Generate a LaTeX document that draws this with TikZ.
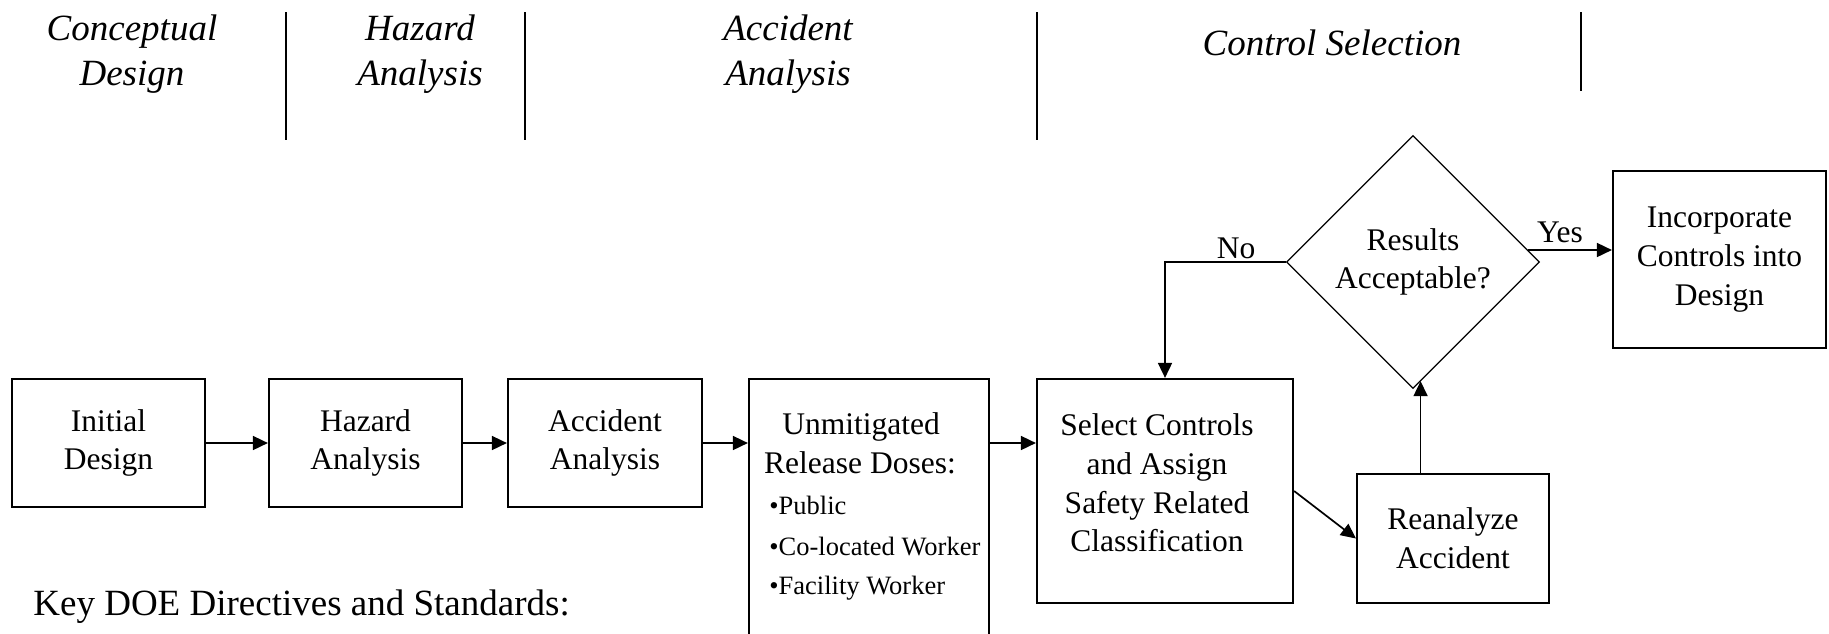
\documentclass[tikz,border=0pt]{standalone}
\usepackage{fontspec}
\setmainfont{Liberation Serif}
\usetikzlibrary{arrows.meta,shapes.geometric,calc}
\newcommand{\dboxfont}{\fontsize{15.75pt}{19.3pt}\selectfont}
\newcommand{\dheadfont}{\fontsize{18.5pt}{22.5pt}\selectfont\itshape}
\newcommand{\dbulfont}{\fontsize{13.25pt}{16pt}\selectfont}
\newcommand{\dkeyfont}{\fontsize{18.5pt}{22pt}\selectfont}
\begin{document}
\begin{tikzpicture}[x=0.5pt,y=-0.5pt,
  box/.style={draw, line width=1.1pt, rectangle, inner sep=0pt, align=center, font=\dboxfont},
  txt/.style={inner sep=0pt, align=center},
  head/.style={inner sep=0pt, align=center, font=\dheadfont},
  arr/.style={line width=0.85pt, -{Triangle[length=7.5pt,width=7pt]}},
  divider/.style={line width=0.85pt},
  decision/.style={draw, diamond, aspect=1, line width=0.65pt, inner sep=0pt, align=center, font=\dboxfont}]
\useasboundingbox (0,0) rectangle (1829,633);
\fill[white] (0,0) rectangle (1829,633);
\clip (0,0) rectangle (1829,633);

% phase headings
\node[head] (h1) at (132,54) {Conceptual\\Design};
\node[head] (h2) at (420,54) {Hazard\\Analysis};
\node[head] (h3) at (788,54) {Accident\\Analysis};
\node[head, anchor=base] (h4) at (1332,55) {Control Selection};
\draw[divider] (286,12) -- (286,140);
\draw[divider] (525,12) -- (525,140);
\draw[divider] (1037,12) -- (1037,140);
\draw[divider] (1581,12) -- (1581,91);

% main row
\node[box, minimum width=96.5pt, minimum height=64pt] (ini) at (108.5,443) {Initial\\Design};
\node[box, minimum width=96.5pt, minimum height=64pt] (haz) at (365.5,443) {Hazard\\Analysis};
\node[box, minimum width=97pt, minimum height=64pt] (acc) at (605,443) {Accident\\Analysis};
\node[box, minimum width=120pt, minimum height=141pt] (unm) at (869,520) {};
\node[txt, anchor=base, font=\dboxfont] (u1) at (861,434) {Unmitigated};
\node[txt, anchor=base, font=\dboxfont] (u2) at (860,473) {Release Doses:};
\node[txt, anchor=base west, font=\dbulfont] (u3) at (769,514) {•Public};
\node[txt, anchor=base west, font=\dbulfont] (u4) at (769,555) {•Co-located Worker};
\node[txt, anchor=base west, font=\dbulfont] (u5) at (769,594) {•Facility Worker};

\node[box, minimum width=128pt, minimum height=112pt] (sel) at (1165,491) {};
\node[txt, font=\dboxfont] (seltxt) at (1157,483) {Select Controls\\and Assign\\Safety Related\\Classification};

\node[box, minimum width=96pt, minimum height=64.5pt] (rean) at (1453,538.5) {Reanalyze\\Accident};
\node[decision, minimum width=126.5pt, minimum height=126.5pt] (dia) at (1413,262) {Results\\Acceptable?};
\node[box, minimum width=106.5pt, minimum height=88.5pt] (inc) at (1719.5,259.5) {Incorporate\\Controls into\\Design};

\node[txt, anchor=base west, font=\dkeyfont] (key) at (33,615) {Key DOE Directives and Standards:};

% connectors
\draw[arr] (ini) -- (haz);
\draw[arr] (haz) -- (acc);
\draw[arr] (acc.east) -- (acc.east -| unm.west);
\draw[arr] (acc.east -| unm.east) -- (acc.east -| sel.west);
\draw[arr] (sel.east) -- (rean.west);
\coordinate (rup) at ($(rean.north west)!0.333!(rean.north east)$);
\draw[arr, shorten >=-4pt] (rup) -- (rup |- dia.south);
\draw[arr] (dia.west) -| (sel.north);
\coordinate (ys) at ($(dia.east)+(-12,-12)$);
\draw[arr] (ys) -- (ys -| inc.west);
\node[txt, anchor=base, font=\dboxfont] (no) at (1236,258) {No};
\node[txt, anchor=base, font=\dboxfont] (yes) at (1560,242) {Yes};
\end{tikzpicture}
\end{document}
